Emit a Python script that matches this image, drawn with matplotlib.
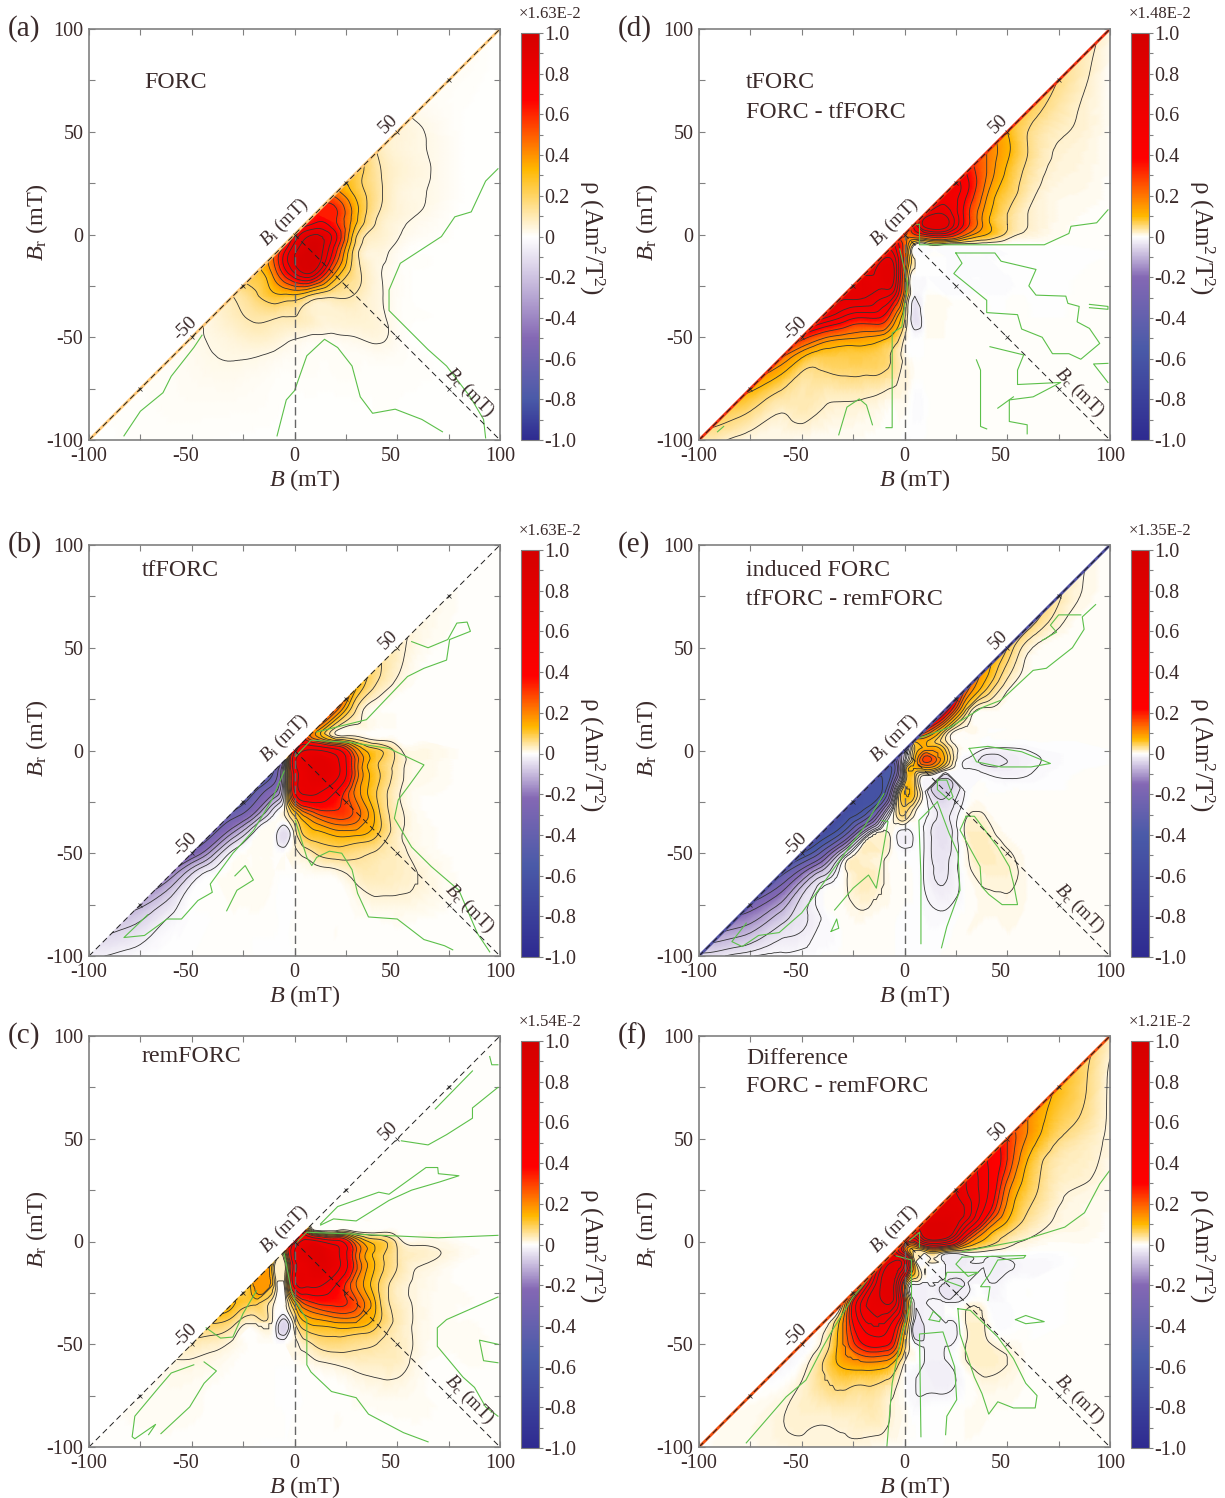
""" FORC diagrams: six panels with their own colour scale. Values are in units
    of the colour bar and sit on a triangular grid below the line Br = B.
"""
import numpy as np
from matplotlib import pyplot as plt
from matplotlib import tri
from matplotlib.cm import ScalarMappable
from matplotlib.colors import LinearSegmentedColormap, Normalize
from matplotlib.transforms import ScaledTranslation

plt.rcParams['font.family'] = ['Liberation Serif', 'DejaVu Serif']
plt.rcParams['mathtext.fontset'] = 'custom'
plt.rcParams['mathtext.rm'] = 'Liberation Serif'
plt.rcParams['mathtext.it'] = 'Liberation Serif:italic'
plt.rcParams['axes.unicode_minus'] = False

# grid nodes (mT), same for B and Br
nodes = [-100, -80, -60, -50, -40, -30, -20, -10, -5, 0, 5, 10, 20, 30, 40, 50, 60, 80, 100]

# rows run from Br = 100 down to Br = -100, each from the diagonal to B = 100
rho_a = [
    [0],
    [.01, 0],
    [.02, .005, 0],
    [.05, .035, .005, 0],
    [.1, .05, .035, .006, 0],
    [.25, .12, .06, .04, .006, 0],
    [.45, .27, .13, .05, .033, .005, 0],
    [.62, .62, .33, .11, .05, .03, .003, 0],
    [.65, .72, .62, .3, .09, .04, .02, .003, 0],
    [.7, .85, .9, .72, .22, .07, .035, .015, .002, 0],
    [.58, .82, .93, .97, .68, .17, .055, .025, .005, .002, 0],
    [.5, .72, .9, .97, .98, .6, .13, .04, .015, .004, .001, 0],
    [.25, .42, .6, .75, .85, .78, .35, .13, .04, .012, .003, .001, 0],
    [.1, .17, .27, .27, .27, .22, .15, .11, .09, .04, .012, .003, .001, 0],
    [.045, .08, .11, .11, .1, .1, .08, .06, .055, .06, .045, .012, .004, .001, 0],
    [.02, .035, .05, .07, .06, .045, .035, .028, .022, .022, .03, .04, .015, .002, .001, 0],
    [.012, .018, .028, .032, .03, .02, .014, .012, .01, .008, .008, .01, .012, .01, .005, .002, .001],
    [.006, .01, .012, .012, .012, .01, .006, .004, .003, .003, .003, .003, .004, .004, .004, .003, .002, .001],
    [.002, .004, .005, .005, .004, .003, .002, .001, .001, .001, .001, .001, .001, .001, .002, .002, .001, .001, 0],
]
rho_b = [
    [0],
    [.003, 0],
    [.015, .003, 0],
    [.03, .01, .002, 0],
    [.06, .025, .005, .001, 0],
    [.13, .04, .01, .002, .001, 0],
    [.25, .05, .005, .002, 0, 0, 0],
    [.2, .03, .005, .002, 0, 0, 0, 0],
    [.35, .25, .12, .06, .02, .005, .002, 0, 0],
    [.4, .6, .62, .5, .2, .1, .035, .012, .003, 0],
    [-.1, .55, .72, .78, .65, .25, .1, .04, .012, .002, 0],
    [-.4, -.05, .5, .7, .78, .68, .25, .1, .035, .01, .002, 0],
    [-.42, -.22, -.02, .45, .65, .65, .45, .2, .09, .025, .006, .002, 0],
    [-.38, -.22, -.03, .02, .12, .22, .28, .32, .25, .11, .03, .006, .002, 0],
    [-.33, -.15, -.02, .005, -.05, .03, .1, .12, .15, .15, .1, .03, .008, .002, 0],
    [-.27, -.12, -.01, .005, .003, 0, .015, .03, .05, .07, .06, .045, .03, .012, .002, 0],
    [-.18, -.06, -.005, .006, .006, .004, .001, .002, .004, .005, .01, .03, .035, .03, .02, .003, 0],
    [-.09, -.02, -.003, .002, .003, .003, .001, -.002, 0, .002, .002, .002, .004, .006, .008, .006, .002, 0],
    [-.02, -.008, -.002, 0, .001, .001, 0, -.003, -.003, -.001, .001, .001, .001, .001, .002, .002, .001, 0, 0],
]
rho_c = [
    [0],
    [0, 0],
    [0, 0, 0],
    [0, 0, 0, 0],
    [0, 0, 0, 0, 0],
    [0, 0, 0, 0, 0, 0],
    [0, 0, 0, 0, 0, 0, 0],
    [0, 0, 0, 0, 0, 0, 0, 0],
    [.35, .06, .03, .012, .005, .002, .001, 0, 0],
    [.45, .65, .65, .5, .22, .11, .04, .012, .004, .001],
    [.15, .6, .78, .82, .65, .27, .12, .05, .03, .01, .002],
    [.1, .03, .55, .72, .8, .68, .28, .12, .05, .025, .005, .001],
    [.18, .1, .03, .55, .68, .68, .48, .22, .1, .035, .015, .003, .001],
    [.14, .1, .02, 0, .15, .28, .33, .35, .28, .12, .035, .015, .004, .001],
    [.09, .06, .02, .002, -.06, .04, .12, .14, .16, .16, .1, .04, .015, .004, .002],
    [.04, .03, .015, .003, .001, 0, .015, .035, .055, .07, .06, .05, .035, .015, .005, .002],
    [.015, .015, .01, .004, .001, .001, 0, .003, .006, .012, .02, .028, .03, .03, .01, .003, .001],
    [.005, .006, .005, .003, .001, 0, 0, -.002, -.002, .001, .002, .003, .004, .005, .006, .005, .002, .001],
    [.002, .002, .002, .001, .001, 0, 0, -.002, -.002, 0, .001, .001, .001, .002, .002, .002, .001, .001, 0],
]
rho_d = [
    [.01],
    [.04, .003],
    [.07, .025, .005],
    [.1, .05, .02, .003],
    [.2, .11, .05, .015, .003],
    [.4, .2, .09, .04, .012, .002],
    [.58, .42, .16, .07, .03, .008, .002],
    [.6, .68, .35, .12, .05, .02, .005, .001],
    [.45, .75, .75, .35, .12, .05, .02, .004, .001],
    [.2, .3, .4, .45, .2, .1, .04, .015, .003, 0],
    [.5, .25, .02, 0, .01, .005, .003, .001, 0, 0, 0],
    [.65, .6, .25, -.005, -.003, -.005, -.005, -.005, -.003, -.002, -.001, 0],
    [.7, .78, .7, .2, -.003, -.003, -.005, -.006, -.006, -.004, -.002, -.001, 0],
    [.72, .72, .62, .5, .15, -.02, 0, 0, -.003, -.003, -.002, -.001, 0, 0],
    [.65, .5, .42, .38, .2, .06, -.04, .005, .005, 0, 0, 0, 0, 0, 0],
    [.35, .22, .17, .15, .12, .08, .02, -.005, .002, .003, .002, 0, 0, 0, 0, 0],
    [.2, .1, .07, .07, .07, .06, .04, .012, 0, .001, .002, .001, .001, 0, 0, 0, 0],
    [.09, .035, .03, .025, .022, .02, .012, .008, .008, -.005, -.002, 0, .001, .001, .001, 0, 0, 0],
    [.03, .012, .008, .005, .004, .004, .003, .002, .002, -.004, -.002, 0, 0, 0, 0, 0, 0, 0, 0],
]
rho_e = [
    [0],
    [.015, .001],
    [.04, .004, 0],
    [.05, .012, 0, 0],
    [.08, .03, .004, 0, 0],
    [.15, .05, .01, .001, 0, 0],
    [.3, .05, .005, 0, 0, 0, 0],
    [.2, .05, .005, 0, 0, 0, 0, 0],
    [.08, .08, .02, 0, -.001, 0, 0, 0, 0],
    [-.05, .05, .1, .05, .002, -.012, -.012, -.008, -.002, 0],
    [-.25, -.02, .07, .17, .06, -.01, -.025, -.02, -.012, -.003, 0],
    [-.4, -.3, .02, .06, .05, .003, -.006, -.012, -.015, -.01, -.001, 0],
    [-.5, -.4, -.08, .07, .05, -.008, -.05, -.006, 0, 0, 0, 0, 0],
    [-.55, -.42, -.1, .01, .04, .01, -.005, -.025, .003, .005, .001, 0, 0, 0],
    [-.55, -.35, -.08, .012, 0, -.015, -.003, -.01, -.03, .012, .015, .003, 0, 0, 0],
    [-.45, -.25, -.05, .016, .012, .002, -.003, -.002, -.01, -.025, .005, .018, .01, .002, 0, 0],
    [-.3, -.15, -.05, .002, .018, .008, .002, .001, -.001, -.01, -.022, .002, .012, .012, .003, .001, 0],
    [-.15, -.06, -.025, -.006, .002, .006, .002, .001, -.001, -.001, -.004, -.006, .002, .004, .005, .003, .001, 0],
    [-.03, -.012, -.005, -.002, 0, .002, .002, .001, 0, 0, -.001, -.002, .001, .001, .002, .002, .001, .001, 0],
]
rho_f = [
    [.03],
    [.08, .01],
    [.15, .06, .01],
    [.25, .14, .04, .01],
    [.4, .25, .1, .025, .008],
    [.6, .42, .2, .08, .02, .005],
    [.75, .65, .4, .15, .06, .012, .004],
    [.75, .82, .6, .25, .1, .04, .01, .002],
    [.6, .8, .85, .4, .14, .06, .025, .008, .001],
    [.4, .3, .55, .55, .2, .08, .03, .012, .004, 0],
    [.55, .25, .03, .05, .04, .02, .01, .003, .001, 0, 0],
    [.6, .72, .6, .06, -.005, -.025, -.025, -.02, -.018, -.01, -.002, 0],
    [.2, .75, .7, .2, 0, -.015, -.035, -.022, -.012, -.005, -.002, 0, 0],
    [.03, .55, .7, .65, .25, -.02, -.018, -.012, .002, -.002, -.005, -.001, 0, 0],
    [-.005, .15, .45, .5, .35, .15, -.04, -.018, -.016, .016, .01, -.006, -.001, 0, 0],
    [-.01, .02, .15, .3, .32, .25, .07, -.01, -.018, -.018, .016, .02, .008, .001, 0, 0],
    [-.012, .004, .05, .11, .13, .12, .08, .01, -.002, -.018, -.02, .01, .022, .015, .002, .001, 0],
    [.003, .012, .02, .025, .03, .03, .022, .012, .004, -.008, -.005, -.002, .003, .005, .004, .002, .001, 0],
    [.002, .006, .011, .012, .012, .012, .01, .004, .002, 0, -.003, -.002, -.001, .001, .001, .001, .001, 0, 0],
]

# black contour levels
levels_a = [.03, .1, .2, .3, .4, .5, .6, .7, .8, .9]
levels_b = [-.4, -.3, -.2, -.15, -.1, -.06, -.02, .02, .05, .09, .13, .17, .22, .27, .33, .45, .6]
levels_c = [-.04, -.02, .02, .05, .09, .13, .17, .22, .27, .33, .45, .6]
levels_d = [-.04, -.02, .02, .05, .1, .15, .2, .3, .4, .5, .6, .7]
levels_e = [-.45, -.36, -.28, -.2, -.15, -.1, -.07, -.04, -.02, -.008,
            .008, .02, .035, .05, .07, .1, .13, .16, .2, .25]
levels_f = [-.03, -.015, .015, .05, .1, .15, .2, .25, .3, .4, .5, .6, .7]

# green outlines, (B, Br) in mT
green_a = [
    [(-45, -49), (-49, -55), (-60, -69), (-64, -77), (-75, -86), (-83, -98)],
    [(-8.5, -98), (-4, -80.5), (0, -76), (6, -59), (14.6, -51), (21, -55), (28, -64), (32, -79),
     (38, -87), (49, -85), (62, -90), (72, -96)],
    [(99, 32), (93, 26), (86, 11), (78, 8.6), (71.5, -1), (51.5, -14), (46, -27), (46, -37), (57, -48),
     (65, -56), (74, -64), (85.5, -79), (92, -90), (93, -99)],
]
green_b = [
    [(-71.5, -80), (-83, -91), (-73, -90), (-62, -82), (-55, -82), (-47, -73), (-40, -69), (-41, -65),
     (-30, -50), (-20, -39), (-11, -24), (-5, -10)],
    [(-29, -61), (-24, -56), (-20, -63), (-28, -68), (-33, -78)],
    [(0.4, -3), (8, 5), (27, 4), (46, 1), (63, -7), (55, -18), (50.5, -24), (48.6, -33), (57, -47),
     (66.6, -56.5), (80, -68), (89, -89), (95, -98)],
    [(0.4, -34), (6, -52), (8.4, -56), (10.8, -52), (17, -49), (23, -50), (28, -58), (30.7, -69.5),
     (36, -81), (50, -82), (63, -92), (73, -95), (77, -97)],
    [(10.8, 9), (35, 15), (55, 36), (63, 40), (74, 44), (75.5, 54), (85.6, 58), (84, 62.5), (79, 62),
     (74.6, 54), (65, 50), (57, 53)],
]
green_c = [
    [(12.7, 8.6), (21, 17), (41, 24), (46, 23), (64, 36), (69.7, 36), (70, 33), (80, 32), (70.7, 29),
     (57, 25), (46, 20), (30, 10), (19, 11), (12.7, 8)],
    [(52, 49), (65, 47), (74, 52), (86.6, 60), (86.6, 65), (99, 75)],
    [(68.5, 64.5), (86.6, 83)],
    [(95, 90), (96, 86), (99, 86)],
    [(0.4, -1), (6, 4.5), (27, 3.7), (70, 1.8), (99, 3)],
    [(-5, -6), (-1.5, -24), (0.4, -29), (6, -38), (6, -60), (8, -63.5), (18, -73), (30, -76), (36, -84),
     (53, -93), (65, -97.5)],
    [(99, -27), (74, -38), (69.5, -42), (69.5, -51), (82, -66), (87.6, -71), (93, -80.5), (99, -85)],
    [(99, -50), (90, -48), (92, -58), (99, -59)],
    [(-49, -60), (-60, -64), (-66, -71), (-77.7, -85), (-79, -95), (-77.7, -96), (-67.6, -89), (-71, -94)],
    [(-65, -93.5), (-51, -80.5), (-44, -69), (-38, -63), (-44, -58.6)],
    [(-43, -42), (-36, -47), (-30, -46.5), (-25, -35), (-18.5, -24)],
]
green_d = [
    [(3.4, 4.5), (7.3, 5), (7.3, -5), (68, -5), (80, 0.5), (81, 4), (93.5, 5.7), (99, 12)],
    [(25, -9), (44, -9), (47, -13), (64, -17), (60.5, -25), (64, -29.5), (78.5, -30), (79.5, -33.5),
     (85, -35), (84, -42.5), (90, -45.7), (95, -53), (85.8, -60.7), (80, -58), (72, -58), (67, -50),
     (57, -46), (55, -39), (40, -38), (40, -32), (24, -19), (28, -14), (25, -9)],
    [(41.6, -54.6), (58, -58.6), (55, -66), (55, -73), (76, -72), (62.6, -79), (51, -80.5), (51, -91),
     (59.7, -92.6), (59.7, -97)],
    [(45.4, -84.5), (53, -79)],
    [(35, -61), (37, -66), (37, -93.4), (40, -94.6)],
    [(-2.3, -7), (1.5, -24), (-1.3, -45), (-6, -48), (-6, -94), (-9, -94)],
    [(-32, -97.5), (-28, -84), (-22, -80), (-18.5, -83), (-15.6, -92.6)],
    [(99, -62.7), (92, -63), (99, -72)],
    [(90, -34), (99, -35), (99, -36.4), (90, -35.6)],
    [(-91, -96), (-88, -93.4)],
]
green_e = [
    [(-77, -84), (-84, -93), (-79, -95.4), (-71, -90), (-61, -88.6), (-50, -79), (-39.5, -64.6), (-29, -50),
     (-19.5, -37), (-10, -21)],
    [(7, 6), (22.5, 11.5), (38, 21), (47, 24.5), (62.6, 39), (69, 40), (81.7, 50), (87.4, 59), (86.5, 65), (93, 71)],
    [(67, 53.6), (74, 57.6), (71, 61), (75, 66), (85.8, 66)],
    [(31.5, 1), (40.6, 2), (57, -0.6), (71, -6.3), (61.6, -8), (47, -8), (35, -5.5), (31.5, 1)],
    [(16, -14.4), (20.6, -14.4), (23.6, -22.5), (21.6, -24), (16, -19), (16, -14.4)],
    [(16, -25), (21.6, -40), (26, -50), (27, -68), (20.6, -85.7), (18, -96)],
    [(16, -25), (7, -34), (8, -61), (8, -94)],
    [(30, -32), (34, -32), (45.4, -47), (51, -56.5), (53, -64.6), (55, -75), (47.5, -75), (41, -70),
     (37.4, -66), (36.8, -56.5), (27, -38.7), (30, -32)],
    [(-11, -34), (-8, -34.6), (-13.7, -67), (-17.5, -60.6), (-25, -67), (-34, -77.6)],
    [(-35.7, -88), (-33, -82), (-32, -86.5), (-35.7, -88)],
]
green_f = [
    [(-77, -98), (-57.6, -75.6), (-48, -67.5), (-39.5, -51), (-35, -43), (-25, -27), (-16.6, -17)],
    [(99.8, 34.5), (95, 28), (87.6, 14), (78, 7), (57, 0.5), (28, -5)],
    [(28, -7.6), (59, -6.8), (58, -8), (45.4, -9), (41.6, -15.7), (37, -22), (41.6, -22), (40.6, -28.7)],
    [(28, -7.6), (25, -11), (31, -17), (36, -15), (20.6, -15), (19.6, -19), (28, -22)],
    [(26, -32.7), (32, -33.5), (45.4, -46.5), (53, -57), (59, -69), (64.5, -75), (63.6, -81), (53, -81),
     (45.4, -78), (41, -84), (37.7, -74), (34, -66), (27, -45), (26, -32.7)],
    [(8, -95), (7.3, -45), (18.7, -44), (24.4, -61), (25.4, -77), (20.6, -85), (20, -94)],
    [(-8.6, -100), (-6, -69), (-1.3, -45), (3.4, -28.7), (3.4, -9), (-4, -7)],
    [(2.5, 0.5), (7.3, 4.5), (7.3, -2.7)],
    [(54, -38), (59, -36), (68, -39), (59, -40), (54, -38)],
    [(12, -38), (14, -34), (17.7, -37), (17, -39), (12, -38)],
]

# colour bar stops: navy, blue, purple, white, amber, red, dark red
stops_a = [-1, -.8, -.5, 0, .33, .67, 1]
stops_b = [-1, -.55, -.22, 0, .13, .38, 1]
stops_c = [-1, -.55, -.22, 0, .14, .38, 1]
stops_d = [-1, -.55, -.2, 0, .1, .38, 1]
stops_e = [-1, -.4, -.15, 0, .07, .22, 1]
stops_f = [-1, -.55, -.2, 0, .1, .3, 1]
stop_colors = ['#2E2A90', '#4A5AA8', '#8468B4', '#FFFFFF', '#FFB800', '#FF0000', '#D40000']

multipliers = ['\u00d71.63E-2', '\u00d71.63E-2', '\u00d71.54E-2', '\u00d71.48E-2', '\u00d71.35E-2', '\u00d71.21E-2']
letters = ['(a)', '(b)', '(c)', '(d)', '(e)', '(f)']
titles = [['FORC'], ['tfFORC'], ['remFORC'], ['tFORC', 'FORC - tfFORC'],
          ['induced FORC', 'tfFORC - remFORC'], ['Difference', 'FORC - remFORC']]
bar_ticks = [1.0, 0.8, 0.6, 0.4, 0.2, 0, -0.2, -0.4, -0.6, -0.8, -1.0]
bar_labels = ['1.0', '0.8', '0.6', '0.4', '0.2', '0', '-0.2', '-0.4', '-0.6', '-0.8', '-1.0']
axis_ticks = [-100, -50, 0, 50, 100]

fields = [rho_a, rho_b, rho_c, rho_d, rho_e, rho_f]
levels = [levels_a, levels_b, levels_c, levels_d, levels_e, levels_f]
greens = [green_a, green_b, green_c, green_d, green_e, green_f]
stops = [stops_a, stops_b, stops_c, stops_d, stops_e, stops_f]

W, H = 1225, 1498
TXT = '#3a2a2a'
GREY = '#808080'
# layout in pixels: left of axes, top of axes, top of colour bar
column_left = [89, 89, 89, 699, 699, 699]
row_top = [29, 545, 1036, 29, 545, 1036]
bar_top = [33, 550, 1041, 33, 550, 1041]
title_x = [144, 142, 142, 746, 746, 746]
title_y = [83, 570, 1057, 83, 571, 1058]
edge_colors = ['#FFC878', None, None, '#F03010', '#5050A0', '#F05010']
AX = 411


def px_axes(fig, left, top, width, height):
    return fig.add_axes([left / W, 1 - (top + height) / H, width / W, height / H])


def scale_cmap(stop):
    """ Colour map on -1..1 with the stops of one panel. """
    pos = [(s + 1) / 2 for s in stop]
    return LinearSegmentedColormap.from_list('forc', list(zip(pos, stop_colors)), N=512)


def grid_points(rows):
    xs, ys, zs = [], [], []
    count = len(nodes)
    for r, row in enumerate(rows):
        assert len(row) == r + 1, r
        br = nodes[count - 1 - r]
        for c, val in enumerate(row):
            xs.append(nodes[count - 1 - r + c])
            ys.append(br)
            zs.append(val)
    return np.array(xs, float), np.array(ys, float), np.array(zs, float)


def smooth_field(rows):
    """ Cubic refinement of the grid, limited to the range of each parent triangle
        so the steep edges do not ring into false islands.
    """
    xs, ys, zs = grid_points(rows)
    base = tri.Triangulation(xs, ys)
    refiner = tri.UniformTriRefiner(base)
    fine, fine_z = refiner.refine_field(zs, subdiv=3)
    _, parent = refiner.refine_triangulation(subdiv=3, return_tri_index=True)
    corners = zs[base.triangles[parent]]
    return fine, np.clip(fine_z, corners.min(axis=1), corners.max(axis=1))


def draw_panel(fig, i):
    left, top = column_left[i], row_top[i]
    ax = px_axes(fig, left, top, AX, AX)
    cmap = scale_cmap(stops[i])

    fine, fine_z = smooth_field(fields[i])
    ax.tripcolor(fine, fine_z, shading='gouraud', cmap=cmap, vmin=-1, vmax=1)
    ax.tricontour(fine, fine_z, levels=levels[i], colors='#333333', linewidths=0.6, linestyles='solid')

    for line in greens[i]:
        pts = np.array(line)
        ax.plot(pts[:, 0], pts[:, 1], color='#5CC04A', lw=0.8)

    if edge_colors[i]:
        ax.plot([-100, 100], [-100, 100], color=edge_colors[i], lw=2, solid_capstyle='butt')
    ax.plot([-100, 100], [-100, 100], color='#222222', lw=0.7, ls=(0, (6, 4)))
    ax.plot([0, 100], [0, -100], color='#222222', lw=0.7, ls=(0, (6, 4)))
    ax.plot([0, 0], [-100, 0], color='#666666', lw=1.0, ls=(0, (6, 3)))
    marks = [-75, -50, -25, 0, 25, 50, 75]
    ax.plot(marks, marks, ls='none', marker='x', ms=3, mew=0.5, color='#222222')
    ax.plot([25, 50, 75], [-25, -50, -75], ls='none', marker='x', ms=3, mew=0.5, color='#222222')

    ax.set_xlim(-100, 100)
    ax.set_ylim(-100, 100)
    ax.set_xticks(axis_ticks)
    ax.set_yticks(axis_ticks)
    ax.set_xticks([-75, -25, 25, 75], minor=True)
    ax.set_yticks([-75, -25, 25, 75], minor=True)
    ax.tick_params(which='both', direction='in', length=4, width=0.8, color=GREY,
                   top=True, right=True, labelsize=14.5, labelcolor=TXT)
    ax.tick_params(axis='x', pad=5)
    ax.tick_params(axis='y', pad=4)
    # the +-50 labels sit a little left of their ticks in the original
    for lab, val in zip(ax.get_xticklabels(), axis_ticks):
        if abs(val) == 50:
            lab.set_transform(lab.get_transform() + ScaledTranslation(-6 / 100, 0, fig.dpi_scale_trans))
    for spine in ax.spines.values():
        spine.set_color(GREY)
        spine.set_linewidth(1.2)
    ax.set_xlabel(r'$\mathit{B}$ (mT)', fontsize=17.5, color=TXT, labelpad=0)
    ax.set_ylabel(r'$\mathit{B}_{\mathrm{r}}$ (mT)', fontsize=17.5, color=TXT, labelpad=0)
    ax.xaxis.set_label_coords(0.524, -0.066)
    ax.yaxis.set_label_coords(-0.095, 0.53)

    # labels on the diagonal axes
    ax.text(-5, 6, r'$\mathit{B}_{\mathrm{i}}$ (mT)', rotation=45, fontsize=13.5, color=TXT,
            ha='center', va='center', rotation_mode='anchor')
    ax.text(46, 54, '50', rotation=45, fontsize=14, color=TXT, ha='center', va='center')
    ax.text(-53, -46, '-50', rotation=45, fontsize=14, color=TXT, ha='center', va='center')
    ax.text(85, -77, r'$\mathit{B}_{\mathrm{c}}$ (mT)', rotation=-45, fontsize=13.5, color=TXT,
            ha='center', va='center', rotation_mode='anchor')

    # panel letter and title lines
    fig.text((left - 81) / W, 1 - top / H, letters[i], fontsize=21, color=TXT, ha='left', va='center')
    for k, line in enumerate(titles[i]):
        fig.text(title_x[i] / W, 1 - (title_y[i] + 29 * k) / H, line, fontsize=17.2, color=TXT,
                 ha='left', va='center')

    # colour bar
    bar_left = left + 432
    cax = px_axes(fig, bar_left, bar_top[i], 18, 407)
    bar = fig.colorbar(ScalarMappable(Normalize(-1, 1), cmap), cax=cax)
    bar.set_ticks(bar_ticks, labels=bar_labels)
    bar.ax.set_yticks(np.arange(-0.9, 1.0, 0.2), minor=True)
    bar.ax.tick_params(which='major', length=3, width=0.8, color=GREY, labelsize=14.5, labelcolor=TXT, pad=1)
    bar.ax.tick_params(which='minor', length=3, width=0.8, color=GREY)
    bar.outline.set_edgecolor(GREY)
    bar.outline.set_linewidth(0.8)
    fig.text((bar_left + 29) / W, 1 - (bar_top[i] - 19) / H, multipliers[i], fontsize=12, color=TXT,
             ha='center', va='center')
    fig.text((bar_left + 71) / W, 1 - (bar_top[i] + 205) / H, '\u03c1 (Am$^2$/T$^2$)', rotation=-90,
             fontsize=18, color=TXT, ha='center', va='center')


def main():
    fig = plt.figure(figsize=(W / 100, H / 100), dpi=100)
    for i in range(6):
        draw_panel(fig, i)
    fig.savefig('out.png', dpi=100)


main()
